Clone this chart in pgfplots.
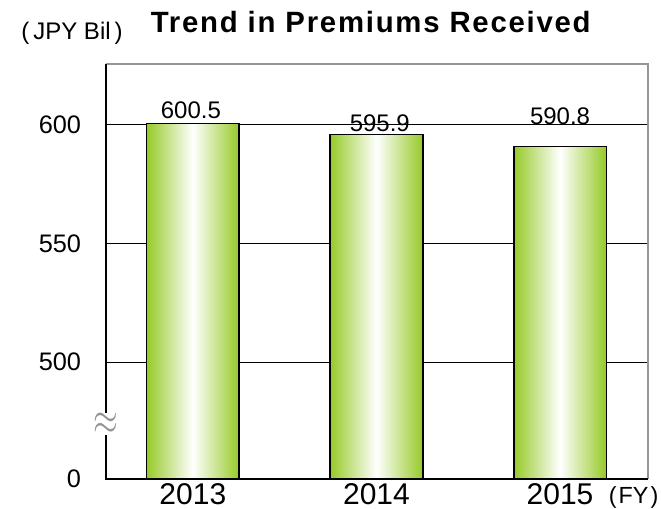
\documentclass[border=0pt]{standalone}
\usepackage{pgfplots}
\pgfplotsset{compat=1.18}
\usepackage{fontspec}
\setmainfont{Liberation Sans}
\definecolor{barg}{RGB}{150,202,40}
\definecolor{framegray}{RGB}{150,150,150}
\pgfplotsset{barstyle/.style={ybar, bar shift=0pt, bar width=0.504, draw=black, line width=1.2pt,
  left color=barg, right color=barg, middle color=white}}
\begin{document}
\begin{tikzpicture}
\begin{axis}[
  at={(0,0)}, anchor=south west,
  scale only axis,
  width=406.5pt, height=311.25pt,
  xmin=-0.473, xmax=2.479,
  ymin=450.8, ymax=625.5,
  xtick={0,1,2}, xticklabels={2013,2014,2015},
  ytick={450.8,500,550,600}, yticklabels={0,500,550,600},
  major tick length=0pt,
  ymajorgrids, grid style={black, line width=0.9pt},
  axis line style={draw=none},
  /pgf/number format/assume math mode=true,
  yticklabel style={font=\fontsize{19}{21}\selectfont, inner sep=0pt, xshift=-18.5pt},
  xticklabel style={font=\fontsize{22.5}{25}\selectfont, inner sep=0pt, yshift=-3pt},
  after end axis/.code={
    \draw[framegray, line width=1.5pt] (rel axis cs:0,1) -- (rel axis cs:1,1) -- (rel axis cs:1,0);
    \draw[black, line width=1.6pt] (rel axis cs:0,1) -- (rel axis cs:0,0) -- (rel axis cs:1,0);
    \node[fill=white, inner sep=0.3pt, text=gray!85, xscale=1.15, yscale=1.6] at (axis description cs:0,0.1325) {\fontsize{22}{24}\selectfont$\approx$};
    \node[anchor=base, font=\fontsize{18}{20}\selectfont] at ([xshift=-1.5pt, yshift=3.5pt]axis cs:0,600.5) {600.5};
    \node[anchor=base, font=\fontsize{18}{20}\selectfont] at ([xshift=2.5pt, yshift=2.2pt]axis cs:1,595.9) {595.9};
    \node[anchor=base, font=\fontsize{18}{20}\selectfont] at ([xshift=0pt, yshift=16.5pt]axis cs:2,590.8) {590.8};
  },
]
\addplot[barstyle] coordinates {(0,600.5)};
\addplot[barstyle] coordinates {(1,595.9)};
\addplot[barstyle] coordinates {(2,590.8)};
\end{axis}
\node[font=\bfseries\fontsize{22}{26}\selectfont] at (198.6pt,343pt) {\addfontfeature{LetterSpace=6}Trend in Premiums Received};
\node[font=\fontsize{18}{20}\selectfont, inner sep=0pt] at (-25.5pt,334.1pt) {(\kern3pt JPY Bil\kern3pt)};
\node[font=\fontsize{17.5}{20}\selectfont, inner sep=0pt, anchor=west] at (377pt,-13.5pt) {(\kern1.5pt FY\kern1.5pt)};
\pgfresetboundingbox
\path[use as bounding box] (-79.5pt,-22.5pt) rectangle ++(495.75pt,381.75pt);
\end{tikzpicture}
\end{document}
